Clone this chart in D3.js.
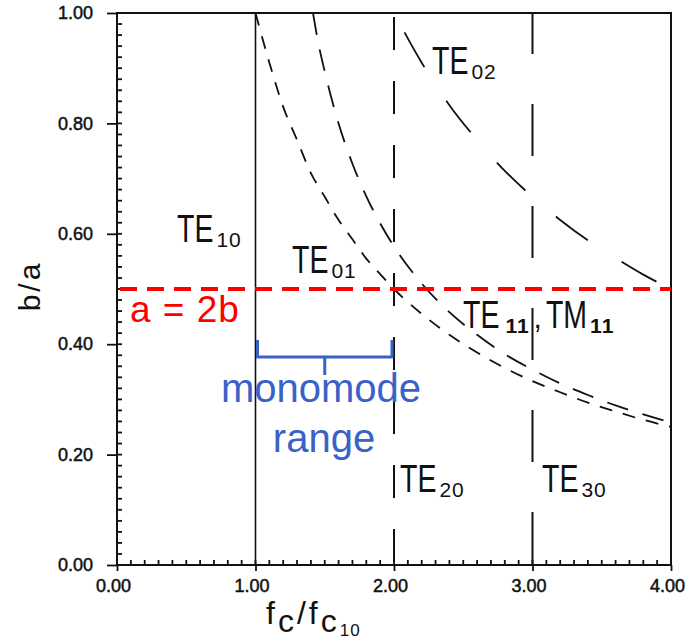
<!DOCTYPE html>
<html>
<head>
<meta charset="utf-8">
<script src="https://cdn.jsdelivr.net/npm/d3@7"></script>
<style>
  html, body { margin: 0; padding: 0; background: #fff; }
  svg { display: block; font-family: "Liberation Sans", Arial, sans-serif; }
</style>
</head>
<body>
<svg id="chart" width="690" height="639"></svg>
<script>
// ---- data ----
const xTickValues = [0, 1, 2, 3, 4];
const xTickLabels = ["0.00", "1.00", "2.00", "3.00", "4.00"];
const yTickValues = [0, 0.2, 0.4, 0.6, 0.8, 1.0];
const yTickLabels = ["0.00", "0.20", "0.40", "0.60", "0.80", "1.00"];

// TE01 curve (b/a vs fc/fc10)
const te01X = [1.00, 1.10, 1.20, 1.30, 1.40, 1.50, 1.60, 1.70, 1.80, 1.90, 2.00, 2.20, 2.40, 2.60, 2.80, 3.00, 3.20, 3.40, 3.60, 3.80, 4.00];
const te01Y = [1.00, 0.91, 0.83, 0.77, 0.71, 0.667, 0.625, 0.59, 0.555, 0.527, 0.50, 0.455, 0.417, 0.385, 0.357, 0.333, 0.313, 0.294, 0.278, 0.263, 0.25];
// TE11 / TM11 curve
const te11X = [1.415, 1.45, 1.50, 1.60, 1.70, 1.80, 1.90, 2.00, 2.20, 2.40, 2.60, 2.80, 3.00, 3.20, 3.40, 3.60, 3.80, 4.00];
const te11Y = [1.00, 0.95, 0.894, 0.80, 0.727, 0.668, 0.619, 0.577, 0.51, 0.458, 0.417, 0.382, 0.354, 0.329, 0.308, 0.289, 0.273, 0.258];
// TE02 curve
const te02X = [2.00, 2.20, 2.40, 2.60, 2.80, 3.00, 3.20, 3.40, 3.60, 3.80, 4.00];
const te02Y = [1.00, 0.91, 0.833, 0.77, 0.714, 0.667, 0.625, 0.588, 0.556, 0.526, 0.50];
// vertical cut-off lines TE10, TE20, TE30
const cutoffX = [1, 2, 3];
// a = 2b reference line
const refRatio = 0.5;
// monomode range
const monoRange = [1, 2];

// ---- layout ----
const svg = d3.select("#chart");
const x = d3.scaleLinear().domain([0, 4]).range([117, 671]);
const y = d3.scaleLinear().domain([0, 1]).range([565, 13]);
const black = "#111";

const plot = svg.append("g");

// curves
const line = d3.line().x(d => x(d[0])).y(d => y(d[1])).curve(d3.curveMonotoneX);
const curves = [
  { xs: te01X, ys: te01Y, dash: "13,11", off: 0 },
  { xs: te11X, ys: te11Y, dash: "22,15", off: 0 },
  { xs: te02X, ys: te02Y, dash: "40,40", off: 58 }
];
curves.forEach(c => {
  plot.append("path")
    .datum(c.xs.map((v, i) => [v, c.ys[i]]))
    .attr("d", line)
    .attr("fill", "none")
    .attr("stroke", black)
    .attr("stroke-width", 1.8)
    .attr("stroke-dasharray", c.dash)
    .attr("stroke-dashoffset", c.off);
});

// vertical cut-off lines
const vDash = [null, "33,31", "52,50"];
const vOff = [0, 60, 11];
cutoffX.forEach((cx, i) => {
  plot.append("line")
    .attr("x1", x(cx)).attr("x2", x(cx))
    .attr("y1", y(1)).attr("y2", y(0))
    .attr("stroke", black)
    .attr("stroke-width", i === 0 ? 1.6 : 2)
    .attr("stroke-dasharray", vDash[i])
    .attr("stroke-dashoffset", vOff[i]);
});

// frame
svg.append("rect")
  .attr("x", x(0)).attr("y", y(1))
  .attr("width", x(4) - x(0)).attr("height", y(0) - y(1))
  .attr("fill", "none").attr("stroke", black).attr("stroke-width", 2);

// minor ticks (inward)
const yMinor = d3.range(0, 51).map(i => i / 50);
const xMinor = d3.range(0, 41).map(i => i / 10);
const ticksG = svg.append("g").attr("stroke", black).attr("stroke-width", 1.8);
ticksG.selectAll("line.ym").data(yMinor).join("line").attr("class", "ym")
  .attr("x1", x(0)).attr("x2", x(0) + 5)
  .attr("y1", d => y(d)).attr("y2", d => y(d));
ticksG.selectAll("line.xm").data(xMinor).join("line").attr("class", "xm")
  .attr("x1", d => x(d)).attr("x2", d => x(d))
  .attr("y1", y(0)).attr("y2", y(0) - 5);

// major axes
svg.append("g")
  .attr("transform", `translate(${x(0)},0)`)
  .call(d3.axisLeft(y).tickValues(yTickValues).tickSize(10).tickPadding(14)
    .tickFormat((d, i) => yTickLabels[i]))
  .call(g => g.select(".domain").remove())
  .call(g => g.selectAll("line").attr("stroke", black).attr("stroke-width", 1.8))
  .call(g => g.selectAll("text").attr("font-size", 18).attr("fill", black)
    .attr("stroke", black).attr("stroke-width", 0.5)
    .attr("font-family", "'Liberation Sans', Arial, sans-serif"));

svg.append("g")
  .attr("transform", `translate(0,${y(0)})`)
  .call(d3.axisBottom(x).tickValues(xTickValues).tickSize(6).tickPadding(8)
    .tickFormat((d, i) => xTickLabels[i]))
  .call(g => g.select(".domain").remove())
  .call(g => g.selectAll("line").attr("stroke", black).attr("stroke-width", 1.8))
  .call(g => g.selectAll("text").attr("font-size", 18).attr("fill", black)
    .attr("dx", -4)
    .attr("stroke", black).attr("stroke-width", 0.5)
    .attr("font-family", "'Liberation Sans', Arial, sans-serif"));

// red a = 2b line
svg.append("line")
  .attr("x1", x(0) + 3).attr("x2", x(4))
  .attr("y1", y(refRatio)).attr("y2", y(refRatio))
  .attr("stroke", "#ff0000").attr("stroke-width", 4)
  .attr("stroke-dasharray", "17,10");

svg.append("text")
  .attr("x", 130).attr("y", 322)
  .attr("font-size", 37).attr("letter-spacing", 1).attr("fill", "#ff0000")
  .text("a = 2b");

// blue brace for monomode range
const blue = "#3a62c6";
const bx0 = x(monoRange[0]) + 2, bx1 = x(monoRange[1]) - 2, bm = x((monoRange[0] + monoRange[1]) / 2);
const bTop = 340, bMid = 357, bTip = 375;
svg.append("path")
  .attr("d", `M${bx0},${bTop} L${bx0},${bMid} L${bx1},${bMid} L${bx1},${bTop} M${bm},${bMid} L${bm},${bTip}`)
  .attr("fill", "none").attr("stroke", blue).attr("stroke-width", 3);

svg.append("text").attr("x", 321).attr("y", 402).attr("text-anchor", "middle")
  .attr("font-size", 40).attr("fill", blue).text("monomode");
svg.append("text").attr("x", 324).attr("y", 452).attr("text-anchor", "middle")
  .attr("font-size", 40).attr("fill", blue).text("range");

// mode labels
const labelG = svg.append("g").attr("fill", black);
function drawLabel(x0, y0, parts) {
  let cx = x0;
  parts.forEach(p => {
    const sx = p.sx || 1;
    const t = labelG.append("text")
      .attr("font-size", p.size)
      .attr("font-weight", p.bold ? "bold" : null)
      .attr("letter-spacing", p.ls || 0)
      .text(p.text);
    const px = cx + (p.dx || 0);
    t.attr("transform", `translate(${px},${y0 + (p.dy || 0)}) scale(${sx},1)`);
    cx = px + t.node().getComputedTextLength() * sx;
  });
}
const main = t => ({ text: t, size: 38, sx: 0.75 });
const sub = (t, bold) => ({ text: t, size: 21, ls: 1, dx: 3, dy: 5, bold: bold });

drawLabel(177, 242, [main("TE"), sub("10")]);
drawLabel(292, 273, [main("TE"), sub("01")]);
drawLabel(432, 74, [main("TE"), sub("02")]);
drawLabel(463, 328, [main("TE"), { text: "11", size: 21, ls: 1, dx: 6, dy: 5, bold: true }, { text: ",", size: 30, dx: 4 }, { text: "TM", size: 38, sx: 0.75, dx: 4 }, sub("11", true)]);
drawLabel(400, 492, [main("TE"), sub("20")]);
drawLabel(542, 492, [main("TE"), sub("30")]);

// axis titles
svg.append("text")
  .attr("transform", "translate(40,286) rotate(-90)")
  .attr("text-anchor", "middle")
  .attr("font-size", 30).attr("letter-spacing", 3).attr("fill", black)
  .text("b/a");

const xt = svg.append("text").attr("x", 266).attr("y", 624).attr("fill", black)
  .attr("font-size", 32).attr("letter-spacing", 3);
xt.append("tspan").text("f");
xt.append("tspan").attr("dy", 8).text("c");
xt.append("tspan").attr("dy", -8).text("/");
xt.append("tspan").text("f");
xt.append("tspan").attr("dy", 8).text("c");
xt.append("tspan").attr("font-size", 17).attr("letter-spacing", 1).attr("dy", 4).text("10");
</script>
</body>
</html>
